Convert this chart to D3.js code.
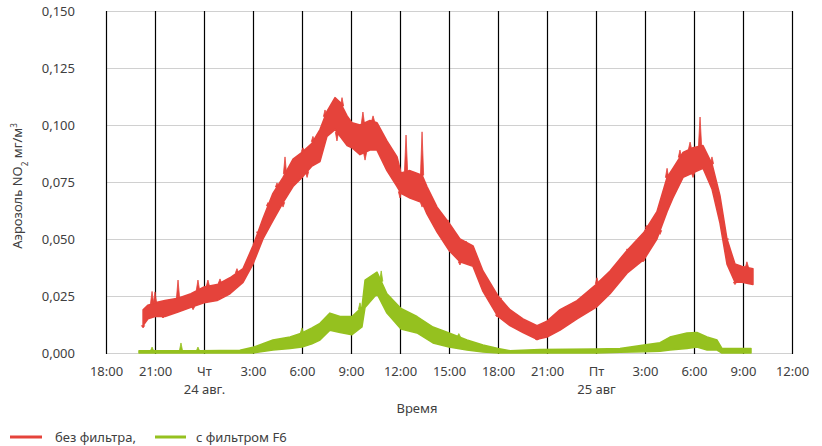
<!DOCTYPE html>
<html><head><meta charset="utf-8">
<script src="https://cdn.jsdelivr.net/npm/d3@7"></script>
<style>body{margin:0;background:#fff}svg{display:block}text{font-family:"Noto Sans",sans-serif;fill:#404040}</style>
</head><body><svg id="c" width="822" height="446"></svg>
<script>
// hours since 23 Aug 18:00
const tickHours = [0,3,6,9,12,15,18,21,24,27,30,33,36,39,42];
const tickLabels = [["18:00"],["21:00"],["Чт","24 авг."],["3:00"],["6:00"],["9:00"],["12:00"],["15:00"],["18:00"],["21:00"],["Пт","25 авг"],["3:00"],["6:00"],["9:00"],["12:00"]];
const yTicks = [0,0.025,0.05,0.075,0.1,0.125,0.15];

const redHours = [2.27,2.57,3.00,3.61,4.41,5.20,6.00,6.80,7.59,8.39,9.00,9.61,10.22,10.84,11.45,12.00,12.61,13.10,13.53,14.02,14.33,14.76,15.06,15.55,16.16,16.59,17.20,17.82,18.06,18.61,19.35,19.65,20.27,21.00,21.67,22.47,23.08,24.00,24.73,25.53,26.39,27.00,27.80,28.84,30.00,30.86,31.90,32.94,33.73,34.35,34.71,35.33,35.94,36.55,37.10,37.59,38.02,38.51,38.94,39.61];
const redLow = [0.012,0.015,0.016,0.016,0.018,0.020,0.022,0.023,0.026,0.031,0.039,0.050,0.058,0.066,0.073,0.077,0.082,0.084,0.095,0.098,0.095,0.091,0.090,0.087,0.089,0.089,0.080,0.073,0.070,0.068,0.066,0.061,0.053,0.045,0.040,0.038,0.027,0.016,0.012,0.009,0.006,0.007,0.010,0.015,0.020,0.026,0.035,0.041,0.050,0.062,0.068,0.077,0.079,0.081,0.072,0.057,0.039,0.031,0.031,0.030];
const redHigh = [0.019,0.021,0.022,0.023,0.024,0.026,0.029,0.030,0.033,0.037,0.047,0.059,0.070,0.077,0.085,0.088,0.092,0.098,0.106,0.112,0.110,0.104,0.101,0.100,0.102,0.101,0.093,0.086,0.079,0.080,0.078,0.073,0.064,0.057,0.050,0.047,0.036,0.025,0.019,0.015,0.012,0.014,0.019,0.023,0.030,0.036,0.045,0.053,0.062,0.077,0.081,0.088,0.090,0.091,0.083,0.069,0.050,0.039,0.038,0.037];
// noise peaks above the band and dips below it
const redPeakHours = [2.82,3.00,4.41,5.63,6.24,6.98,8.02,9.31,9.92,10.47,10.96,12.06,12.67,13.41,14.45,15.73,16.35,18.37,19.35,20.88,21.98,24.12,30.06,31.96,33.12,34.35,35.14,35.76,36.37,37.10,38.02,39.24];
const redPeakValues = [0.027,0.0268,0.032,0.032,0.032,0.0325,0.037,0.052,0.066,0.0746,0.086,0.090,0.095,0.1066,0.112,0.1057,0.104,0.0956,0.097,0.058,0.0487,0.023,0.033,0.045,0.056,0.081,0.089,0.0925,0.1035,0.086,0.0496,0.040];
const redDipHours = [2.27,3.49,5.33,10.84,12.31,14.14,15.86,18.00,19.35,21.67,23.94,26.39,32.88,33.92,35.94,38.51];
const redDipValues = [0.011,0.0154,0.019,0.064,0.077,0.093,0.0846,0.068,0.064,0.0386,0.0158,0.0057,0.040,0.052,0.077,0.030];

const greenHours = [2.02,3.31,5.76,8.20,9.00,10.22,11.27,12.00,12.61,13.10,13.71,14.33,15.06,15.67,15.86,16.59,17.20,18.06,19.04,20.02,21.00,22.10,23.08,24.00,24.73,26.57,30.00,31.47,32.94,33.92,34.53,35.57,36.18,36.80,37.41,37.71,38.94,39.49];
const greenLow = [0,0,0,0,0,0.0013,0.002,0.0026,0.004,0.0057,0.010,0.009,0.008,0.0114,0.020,0.026,0.0175,0.0105,0.0088,0.0044,0.0026,0.0013,0.0004,0,0,0,0,0.0003,0.0005,0.0008,0.0013,0.002,0.0026,0.0013,0.0013,0,0,0];
const greenHigh = [0.001,0.001,0.001,0.0012,0.0025,0.0057,0.007,0.0088,0.011,0.013,0.0175,0.016,0.016,0.020,0.032,0.0355,0.026,0.0195,0.016,0.0114,0.0088,0.0057,0.0035,0.002,0.001,0.0015,0.0018,0.002,0.0035,0.0045,0.007,0.0088,0.009,0.007,0.0057,0.002,0.002,0.002];
const greenPeakHours = [2.82,4.59,5.63,12.00,15.55,16.85,21.60];
const greenPeakValues = [0.0026,0.0044,0.0026,0.011,0.022,0.036,0.0085];

const RED = "#e5433b", GREEN = "#95c11f";
const svg = d3.select("#c");
const x = d3.scaleLinear().domain([0,42]).range([106,792]);
const y = d3.scaleLinear().domain([0,0.15]).range([353,11]);

// horizontal grid
svg.append("g").selectAll("line").data(yTicks).join("line")
  .attr("x1",106).attr("x2",792).attr("y1",d=>y(d)+0.5).attr("y2",d=>y(d)+0.5)
  .attr("stroke","#d0d0d0").attr("stroke-width",1);
// vertical lines
svg.append("g").selectAll("line").data(tickHours).join("line")
  .attr("x1",d=>Math.round(x(d))+0.5).attr("x2",d=>Math.round(x(d))+0.5)
  .attr("y1",y(0.15)).attr("y2",y(0)+1)
  .attr("stroke","#000").attr("stroke-width",1.2);

// y axis labels
const yAxis = d3.axisLeft(y).tickValues(yTicks).tickSize(0).tickPadding(0)
  .tickFormat(d=>d3.format(".3f")(d).replace(".",","));
const gy = svg.append("g").attr("transform","translate(75,0)").call(yAxis);
gy.select(".domain").remove();
gy.selectAll("text").style("font-size","13px").attr("fill","#404040").style("font-family",'"Noto Sans",sans-serif');

// x axis labels
const xAxis = d3.axisBottom(x).tickValues(tickHours).tickSize(0).tickPadding(0).tickFormat("");
const gx = svg.append("g").attr("transform","translate(0,353)").call(xAxis);
gx.select(".domain").remove();
gx.selectAll(".tick").each(function(d,i){
  const t = d3.select(this).append("text").attr("text-anchor","middle").attr("fill","#404040")
    .style("font-size","13px");
  tickLabels[i].forEach((s,j)=>t.append("tspan").attr("x",0).attr("y",j===0?23:41).text(s));
});

function interpArr(hs, arr, t){
  const j = d3.bisectLeft(hs,t); const a=Math.max(0,j-1), b=Math.min(hs.length-1,j);
  const f = b===a?0:(t-hs[a])/(hs[b]-hs[a]); return arr[a]+(arr[b]-arr[a])*f;
}
function band(hours, lo, hi, color){
  const idx = d3.range(hours.length);
  svg.append("path").datum(idx)
    .attr("d", d3.area().x(i=>x(hours[i])).y0(i=>y(lo[i])).y1(i=>y(hi[i])))
    .attr("fill", color).attr("stroke", color).attr("stroke-width",1.5).attr("stroke-linejoin","round");
}
function spikes(sh, sv, hs, ref, color){
  svg.append("g").selectAll("path").data(d3.range(sh.length)).join("path")
    .attr("d", i=>{
      const cx = x(sh[i]), base = y(interpArr(hs, ref, sh[i])), tip = y(sv[i]);
      return `M${cx-1.6},${base}L${cx},${tip}L${cx+1.6},${base}Z`;
    })
    .attr("fill",color).attr("stroke",color).attr("stroke-width",0.8);
}
band(redHours, redLow, redHigh, RED);
spikes(redPeakHours, redPeakValues, redHours, redHigh, RED);
spikes(redDipHours, redDipValues, redHours, redLow, RED);
band(greenHours, greenLow, greenHigh, GREEN);
spikes(greenPeakHours, greenPeakValues, greenHours, greenHigh, GREEN);

// axis titles
svg.append("text").attr("x",417).attr("y",413).attr("text-anchor","middle").style("font-size","13px").text("Время");
const yt = svg.append("text").attr("transform","translate(22,186) rotate(-90)").attr("text-anchor","middle").style("font-size","13px");
yt.append("tspan").text("Аэрозоль NO");
yt.append("tspan").attr("baseline-shift","sub").style("font-size","8px").text("2");
yt.append("tspan").text(" мг/м");
yt.append("tspan").attr("baseline-shift","super").style("font-size","8px").text("3");

// legend
const legend = [{label:"без фильтра,", color:RED, x1:10, x2:42, tx:55},{label:"с фильтром F6", color:GREEN, x1:155, x2:186, tx:196}];
legend.forEach(l=>{
  svg.append("line").attr("x1",l.x1).attr("x2",l.x2).attr("y1",437).attr("y2",437).attr("stroke",l.color).attr("stroke-width",3);
  svg.append("text").attr("x",l.tx).attr("y",442).style("font-size","13px").text(l.label);
});
</script></body></html>
